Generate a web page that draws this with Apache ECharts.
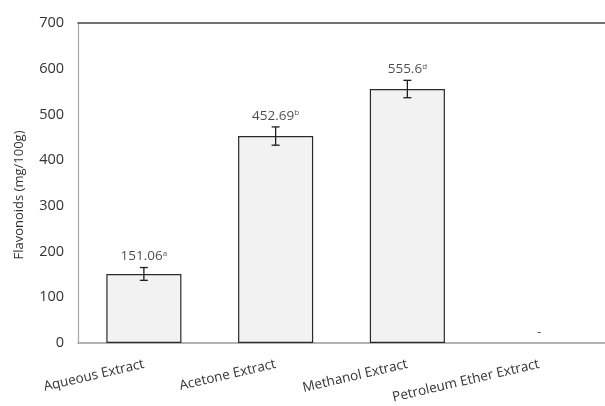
<!DOCTYPE html>
<html>
<head>
<meta charset="utf-8">
<script src="https://cdn.jsdelivr.net/npm/echarts@6/dist/echarts.min.js"></script>
<style>
  html, body { margin: 0; padding: 0; background: #fff; }
  #chart { width: 605px; height: 406px; }
</style>
</head>
<body>
<div id="chart"></div>
<script>
// Flavonoid content per extract (mg/100g), mean ± error, with significance letters
const categories = ['Aqueous Extract', 'Acetone Extract', 'Methanol Extract', 'Petroleum Ether Extract'];
const means = [151.06, 452.69, 555.6, 0];
const errors = [14, 20, 19, 0];
const letters = ['a', 'b', 'd', ''];
const yTicks = [0, 100, 200, 300, 400, 500, 600, 700];

const FONT = '"Open Sans", "Noto Sans", sans-serif';
const TEXT = '#333333';

const chart = echarts.init(document.getElementById('chart'));

// Error-bar whiskers drawn through the value scale
function renderErrorBar(params, api) {
  const i = api.value(0);
  const lo = api.value(1);
  const hi = api.value(2);
  if (hi === lo) return null;
  const top = api.coord([i, hi]);
  const bot = api.coord([i, lo]);
  const cap = 4;
  const style = { stroke: '#1e1e1e', lineWidth: 1.3 };
  return {
    type: 'group',
    children: [
      { type: 'line', shape: { x1: top[0], y1: top[1], x2: bot[0], y2: bot[1] }, style },
      { type: 'line', shape: { x1: top[0] - cap, y1: top[1], x2: top[0] + cap, y2: top[1] }, style },
      { type: 'line', shape: { x1: bot[0] - cap, y1: bot[1], x2: bot[0] + cap, y2: bot[1] }, style }
    ]
  };
}

chart.setOption({
  animation: false,
  backgroundColor: '#fff',
  grid: { left: 78, right: 0, top: 23, bottom: 63 },
  xAxis: [
    {
      type: 'category',
      data: categories,
      axisLine: { lineStyle: { color: '#9a9a9a', width: 1.5 } },
      axisTick: { show: false },
      axisLabel: {
        rotate: 13,
        margin: 21,
        color: TEXT,
        fontFamily: FONT,
        fontSize: 13.5,
        interval: 0
      }
    },
    {
      type: 'category',
      data: categories,
      position: 'top',
      axisLine: { lineStyle: { color: '#444', width: 1.5 } },
      axisTick: { show: false },
      axisLabel: { show: false }
    }
  ],
  yAxis: {
    type: 'value',
    min: yTicks[0],
    max: yTicks[yTicks.length - 1],
    interval: 100,
    name: 'Flavonoids (mg/100g)',
    nameLocation: 'middle',
    nameGap: 52,
    nameTextStyle: { color: TEXT, fontFamily: FONT, fontSize: 13, padding: [0, 0, 0, -24] },
    axisLine: { show: true, lineStyle: { color: '#a8a8a8', width: 1.2 } },
    axisTick: { show: false },
    splitLine: { show: false },
    axisLabel: { color: TEXT, fontFamily: FONT, fontSize: 14.5, margin: 14 }
  },
  series: [
    {
      type: 'bar',
      data: means.map((m) => ({
        value: m,
        itemStyle: m === 0 ? { borderWidth: 0 } : undefined
      })),
      barWidth: '57%',
      itemStyle: { color: '#f2f2f2', borderColor: '#2b2b2b', borderWidth: 1.2 }
    },
    {
      type: 'custom',
      renderItem: renderErrorBar,
      data: means.map((m, i) => [i, m - errors[i], m + errors[i]]),
      z: 5
    },
    {
      type: 'scatter',
      symbolSize: 0,
      data: means.map((m, i) => [i, m + errors[i]]),
      label: {
        show: true,
        position: 'top',
        distance: 4,
        formatter: (p) => {
          const i = p.dataIndex;
          if (means[i] === 0) return '{v|-}';
          return '{v|' + means[i] + '}{s|' + letters[i] + '}';
        },
        rich: {
          v: { color: '#1e1e1e', fontFamily: FONT, fontSize: 13.5 },
          s: { color: '#1e1e1e', fontFamily: FONT, fontSize: 8, verticalAlign: 'top', padding: [0, 0, 6, 0] }
        }
      },
      z: 6
    }
  ]
});
</script>
</body>
</html>
